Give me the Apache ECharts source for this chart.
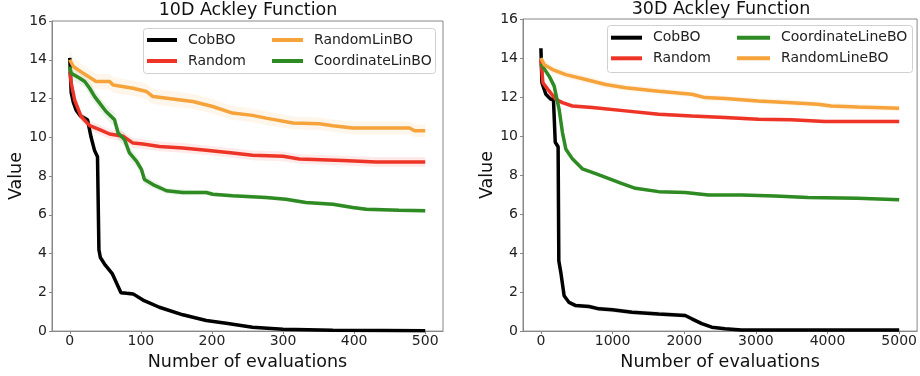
<!DOCTYPE html>
<html>
<head>
<meta charset="utf-8">
<script src="https://cdn.jsdelivr.net/npm/echarts@6/dist/echarts.min.js"></script>
<style>html,body{margin:0;padding:0;background:#fff}#c{width:920px;height:376px}</style>
</head>
<body>
<div id="c"></div>
<script>
// ---------- 10D Ackley ----------
const titles = ['10D Ackley Function', '30D Ackley Function'];
const xTicks10 = [0, 100, 200, 300, 400, 500];
const xTicks30 = [0, 1000, 2000, 3000, 4000, 5000];
const yTicks = [0, 2, 4, 6, 8, 10, 12, 14, 16];

const names10 = ['CobBO', 'Random', 'RandomLinBO', 'CoordinateLinBO'];
const names30 = ['CobBO', 'Random', 'CoordinateLineBO', 'RandomLineBO'];

const cob10X = [0, 2, 5, 9, 15, 25, 30, 35, 39, 41, 43, 50, 60, 72, 80, 89, 103, 126, 159, 192, 220, 257, 300, 370, 440, 500];
const cob10Y = [14.1, 12.3, 11.8, 11.4, 11.1, 10.9, 10.0, 9.3, 9.0, 4.2, 3.8, 3.4, 2.95, 1.98, 1.95, 1.92, 1.6, 1.23, 0.84, 0.55, 0.41, 0.2, 0.09, 0.04, 0.03, 0.02];
const cob10S = [0.3, 0.2, 0.2, 0.2, 0.15, 0.15, 0.15, 0.15, 0.15, 0.15, 0.12, 0.12, 0.12, 0.1, 0.1, 0.1, 0.1, 0.1, 0.1, 0.08, 0.06, 0.05, 0.04, 0.03, 0.02, 0.02];

const rnd10X = [0, 2, 7, 16, 28, 42, 56, 75, 89, 103, 126, 159, 192, 229, 257, 300, 323, 384, 431, 500];
const rnd10Y = [13.4, 12.8, 11.9, 11.07, 10.6, 10.4, 10.17, 10.05, 9.7, 9.65, 9.53, 9.45, 9.33, 9.19, 9.07, 9.02, 8.88, 8.8, 8.73, 8.73];
const rnd10S = [0.3, 0.3, 0.3, 0.25, 0.25, 0.25, 0.25, 0.25, 0.25, 0.25, 0.25, 0.25, 0.25, 0.25, 0.25, 0.25, 0.25, 0.25, 0.25, 0.25];

const rl10X = [0, 5, 19, 37, 56, 61, 89, 108, 117, 145, 173, 201, 229, 257, 276, 314, 351, 370, 398, 431, 478, 485, 500];
const rl10Y = [14.0, 13.65, 13.3, 12.88, 12.88, 12.7, 12.53, 12.36, 12.1, 11.98, 11.85, 11.59, 11.25, 11.13, 10.99, 10.74, 10.7, 10.6, 10.48, 10.48, 10.48, 10.34, 10.34];
const rl10S = [0.5, 0.45, 0.4, 0.4, 0.4, 0.4, 0.4, 0.4, 0.4, 0.4, 0.38, 0.38, 0.36, 0.35, 0.35, 0.33, 0.32, 0.32, 0.32, 0.32, 0.32, 0.32, 0.32];

const cl10X = [0, 2, 14, 21, 28, 35, 42, 51, 63, 68, 77, 84, 94, 101, 105, 117, 136, 159, 192, 201, 229, 276, 304, 332, 370, 398, 417, 463, 500];
const cl10Y = [13.65, 13.3, 13.05, 12.88, 12.53, 12.1, 11.76, 11.33, 10.9, 10.22, 9.88, 9.19, 8.76, 8.33, 7.82, 7.56, 7.24, 7.15, 7.15, 7.06, 6.98, 6.89, 6.8, 6.64, 6.55, 6.38, 6.29, 6.24, 6.21];
const cl10S = [0.3, 0.3, 0.3, 0.3, 0.35, 0.35, 0.35, 0.35, 0.35, 0.35, 0.35, 0.35, 0.3, 0.3, 0.25, 0.2, 0.15, 0.15, 0.12, 0.12, 0.1, 0.1, 0.1, 0.1, 0.1, 0.1, 0.1, 0.1, 0.1];

// ---------- 30D Ackley ----------
const cob30X = [0, 14, 69, 139, 175, 200, 240, 250, 278, 324, 393, 486, 671, 810, 995, 1273, 1643, 2014, 2106, 2245, 2384, 2569, 2800, 3500, 5000];
const cob30Y = [14.5, 12.73, 12.14, 11.88, 11.88, 9.68, 9.45, 3.6, 3.0, 1.81, 1.47, 1.31, 1.26, 1.14, 1.09, 0.97, 0.88, 0.8, 0.63, 0.38, 0.2, 0.12, 0.06, 0.06, 0.06];
const cob30S = [0.2, 0.15, 0.15, 0.15, 0.15, 0.15, 0.15, 0.15, 0.15, 0.12, 0.12, 0.12, 0.12, 0.12, 0.12, 0.12, 0.12, 0.12, 0.12, 0.1, 0.08, 0.06, 0.04, 0.03, 0.03];

const rnd30X = [0, 28, 97, 208, 300, 439, 717, 1180, 1643, 2106, 2569, 3032, 3495, 3958, 5000];
const rnd30Y = [13.9, 12.73, 12.39, 11.88, 11.71, 11.54, 11.46, 11.29, 11.12, 11.03, 10.95, 10.86, 10.83, 10.75, 10.75];
const rnd30S = [0.15, 0.12, 0.12, 0.1, 0.1, 0.1, 0.1, 0.1, 0.1, 0.1, 0.1, 0.1, 0.1, 0.1, 0.1];

const cl30X = [0, 115, 185, 254, 300, 347, 439, 578, 764, 949, 1133, 1319, 1643, 2014, 2338, 2800, 3264, 3727, 4421, 5000];
const cl30Y = [13.7, 13.07, 12.56, 11.37, 10.19, 9.34, 8.83, 8.32, 8.07, 7.82, 7.56, 7.32, 7.15, 7.1, 6.98, 6.98, 6.93, 6.85, 6.81, 6.73];
const cl30S = [0.1, 0.1, 0.1, 0.1, 0.1, 0.1, 0.1, 0.08, 0.08, 0.08, 0.08, 0.08, 0.08, 0.08, 0.08, 0.08, 0.08, 0.08, 0.08, 0.08];

const rl30X = [0, 46, 162, 347, 625, 903, 1180, 1643, 2106, 2292, 2569, 3032, 3495, 3866, 4051, 4421, 5000];
const rl30Y = [14.0, 13.66, 13.41, 13.15, 12.9, 12.64, 12.48, 12.3, 12.14, 11.97, 11.92, 11.8, 11.71, 11.63, 11.54, 11.49, 11.42];
const rl30S = [0.3, 0.2, 0.2, 0.2, 0.18, 0.18, 0.16, 0.16, 0.15, 0.15, 0.15, 0.15, 0.15, 0.15, 0.15, 0.15, 0.15];

// ---------- build ----------
const FONT = 'DejaVu Sans';
const COLORS = {black: '#000000', red: '#ee3426', orange: '#f5a33a', green: '#2e8a22'};

function zip(xs, ys) { return xs.map((x, i) => [x, ys[i]]); }

const seriesDefs = [
  {g: 0, name: names10[0], x: cob10X, y: cob10Y, s: cob10S, c: COLORS.black},
  {g: 0, name: names10[1], x: rnd10X, y: rnd10Y, s: rnd10S, c: COLORS.red},
  {g: 0, name: names10[2], x: rl10X, y: rl10Y, s: rl10S, c: COLORS.orange},
  {g: 0, name: names10[3], x: cl10X, y: cl10Y, s: cl10S, c: COLORS.green},
  {g: 1, name: names30[0], x: cob30X, y: cob30Y, s: cob30S, c: COLORS.black},
  {g: 1, name: names30[1], x: rnd30X, y: rnd30Y, s: rnd30S, c: COLORS.red},
  {g: 1, name: names30[2], x: cl30X, y: cl30Y, s: cl30S, c: COLORS.green},
  {g: 1, name: names30[3], x: rl30X, y: rl30Y, s: rl30S, c: COLORS.orange}
];

const series = [];
seriesDefs.forEach((d, i) => {
  const bandData = d.x.map((x, k) => [x, d.y[k] - d.s[k], d.y[k] + d.s[k]]);
  series.push({
    type: 'custom', name: '_band' + i, xAxisIndex: d.g, yAxisIndex: d.g,
    data: bandData, encode: {x: 0, y: [1, 2]}, silent: true, clip: true, z: 1,
    renderItem: function (params, api) {
      if (params.dataIndex !== 0) return;
      const up = bandData.map(p => api.coord([p[0], p[2]]));
      const lo = bandData.map(p => api.coord([p[0], p[1]])).reverse();
      return {
        type: 'polygon', shape: {points: up.concat(lo)},
        style: {fill: d.c, opacity: 0.1}
      };
    }
  });
});
seriesDefs.forEach((d, i) => {
  series.push({
    type: 'line', name: d.name, xAxisIndex: d.g, yAxisIndex: d.g,
    data: zip(d.x, d.y), showSymbol: false, symbol: 'none',
    color: d.c, itemStyle: {color: d.c},
    lineStyle: {color: d.c, width: 3.5}, z: 3 + i
  });
});

function xAxis(g, min, max, ticks, gap) {
  return {
    gridIndex: g, type: 'value', min: min, max: max,
    axisLine: {show: true, onZero: false, lineStyle: {color: '#888', width: 1}},
    axisTick: {show: true, customValues: ticks, length: 3, lineStyle: {color: '#888'}},
    axisLabel: {customValues: ticks, formatter: v => String(v), color: '#222', fontSize: 14, fontFamily: FONT, margin: 3},
    splitLine: {show: false},
    name: 'Number of evaluations', nameLocation: 'middle', nameGap: gap,
    nameTextStyle: {fontSize: 17.5, color: '#111', fontFamily: FONT}
  };
}
function yAxis(g, gap) {
  return {
    gridIndex: g, type: 'value', min: yTicks[0], max: yTicks[yTicks.length - 1], interval: 2,
    axisLine: {show: true, onZero: false, lineStyle: {color: '#888', width: 1}},
    axisTick: {show: true, length: 3, lineStyle: {color: '#888'}},
    axisLabel: {color: '#222', fontSize: 14, fontFamily: FONT, margin: 5},
    splitLine: {show: false},
    name: 'Value', nameLocation: 'middle', nameGap: gap,
    nameTextStyle: {fontSize: 17.5, color: '#111', fontFamily: FONT}
  };
}
function legend(left, top, data, iw, gap) {
  return {
    left: left, top: top, orient: 'vertical', data: data, icon: 'rect',
    itemWidth: iw, itemHeight: 4, itemGap: gap, padding: 0,
    selectedMode: false, z: 20,
    textStyle: {fontSize: 14, fontFamily: FONT, color: '#222', lineHeight: 15, padding: [0, 0, 0, 6]}
  };
}

const option = {
  animation: false,
  backgroundColor: '#fff',
  title: [
    {text: titles[0], left: 248, top: 1, textAlign: 'center', padding: 0,
     textStyle: {fontSize: 17.5, fontWeight: 'normal', color: '#111', fontFamily: FONT}},
    {text: titles[1], left: 721, top: 0, textAlign: 'center', padding: 0,
     textStyle: {fontSize: 17.5, fontWeight: 'normal', color: '#111', fontFamily: FONT}}
  ],
  grid: [
    {left: 52, top: 21, width: 391, height: 311, show: true, borderColor: '#888', borderWidth: 1, backgroundColor: 'transparent'},
    {left: 523, top: 19, width: 396, height: 315, show: true, borderColor: '#888', borderWidth: 1, backgroundColor: 'transparent'}
  ],
  xAxis: [xAxis(0, -25, 525, xTicks10, 19), xAxis(1, -250, 5250, xTicks30, 20)],
  yAxis: [yAxis(0, 25), yAxis(1, 25)],
  graphic: [
    {type: 'rect', left: 143, top: 28, shape: {width: 292, height: 45, r: 3}, z: 10,
     style: {fill: 'rgba(255,255,255,0.8)', stroke: '#d0d0d0', lineWidth: 1}},
    {type: 'rect', left: 607, top: 25, shape: {width: 305, height: 47, r: 3}, z: 10,
     style: {fill: 'rgba(255,255,255,0.8)', stroke: '#d0d0d0', lineWidth: 1}}
  ],
  legend: [
    legend(147, 32.5, [names10[0], names10[1]], 30, 6),
    legend(272, 32.5, [names10[2], names10[3]], 31, 6),
    legend(611, 30.2, [names30[0], names30[1]], 31, 5.6),
    legend(737, 30.2, [names30[2], names30[3]], 33, 5.6)
  ],
  series: series
};

const chart = echarts.init(document.getElementById('c'), null, {renderer: 'canvas'});
chart.setOption(option);
</script>
</body>
</html>
